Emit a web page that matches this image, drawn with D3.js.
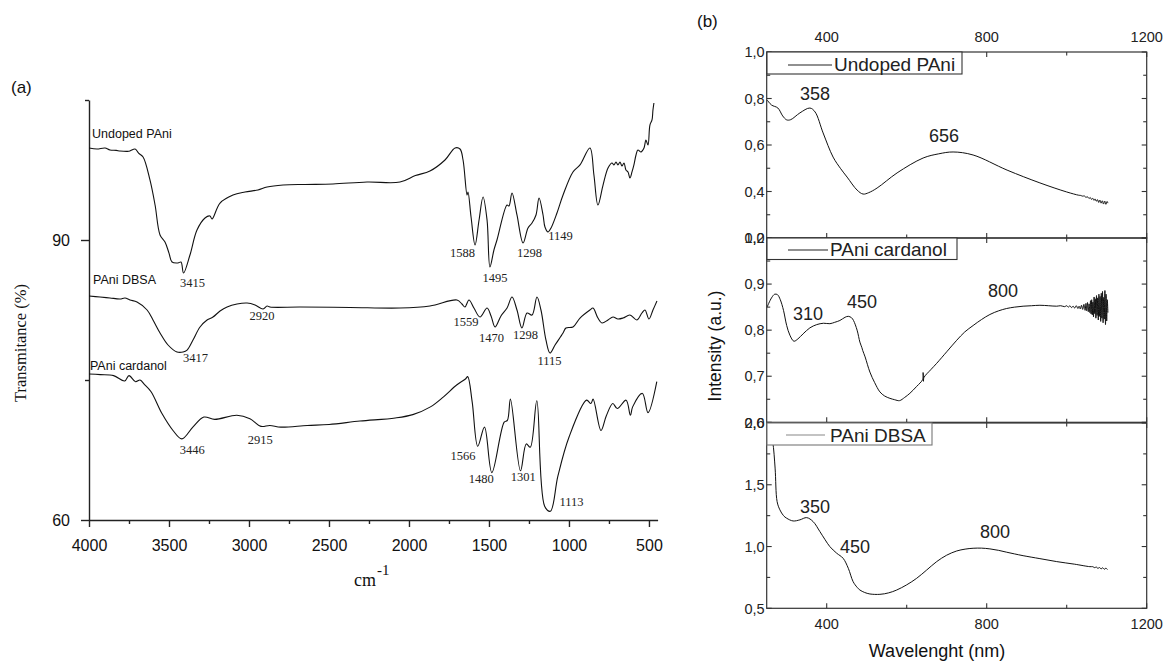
<!DOCTYPE html>
<html><head><meta charset="utf-8">
<script src="https://cdn.jsdelivr.net/npm/d3@7"></script>
<style>
html,body{margin:0;padding:0;background:#fff;}
svg{display:block;}
.sans{font-family:"Liberation Sans",Arial,Helvetica,sans-serif;}
.serif{font-family:"Liberation Serif","Times New Roman",Times,serif;}
</style></head>
<body><svg id="c" width="1168" height="661"></svg>
<script>
// ---------------- DATA : panel (a) FTIR ----------------
const irXTicks = [4000, 3500, 3000, 2500, 2000, 1500, 1000, 500];
const irXMinor = [3750, 3250, 2750, 2250, 1750, 1250, 750];
const irYTicks = [60, 90];
const irYMinor = [75, 105];

const undopedIR = [[4000,99.86],[3950,99.75],[3900,99.86],[3869,99.64],[3830,99.6],[3806,99.54],[3760,99.5],[3744,99.54],[3712,99.75],[3690,99.3],[3662,98.89],[3619,96.43],[3587,93.75],[3556,90.54],[3525,89.79],[3500,88.6],[3481,87.64],[3444,87.54],[3425,87.64],[3409,86.46],[3369,88.39],[3325,91.07],[3275,92.36],[3244,92.57],[3231,92.25],[3181,93.96],[3100,94.82],[3025,95.14],[2944,95.36],[2887,95.68],[2787,95.89],[2650,95.95],[2475,96.0],[2262,96.21],[2056,96.21],[1960,96.9],[1869,97.39],[1775,98.57],[1712,99.86],[1681,99.75],[1662,98.57],[1637,94.82],[1631,95.14],[1612,92.46],[1587,89.46],[1562,92.14],[1537,94.61],[1512,92.14],[1494,87.11],[1469,88.93],[1450,90.0],[1387,93.75],[1375,93.64],[1356,95.04],[1325,92.68],[1287,89.68],[1256,91.29],[1231,91.82],[1206,92.68],[1187,94.5],[1162,92.68],[1150,91.39],[1131,90.86],[1112,91.29],[1075,92.89],[1037,94.82],[975,97.29],[931,98.04],[869,99.86],[844,96.96],[819,93.75],[787,95.89],[756,97.71],[731,98.25],[719,98.04],[706,98.36],[694,98.04],[681,98.36],[669,97.93],[656,98.25],[644,97.5],[631,97.29],[619,96.64],[606,97.29],[594,98.04],[581,99.11],[569,99.64],[550,99.43],[531,99.86],[519,100.71],[506,100.18],[494,102.32],[481,102.86],[475,103.93],[469,104.68]];

const dbsaIR = [[4000,84.0],[3931,83.89],[3869,83.79],[3806,83.68],[3775,83.79],[3744,83.57],[3700,83.36],[3637,82.5],[3600,81.43],[3556,80.04],[3506,78.75],[3450,78.0],[3412,78.0],[3387,78.21],[3350,79.29],[3306,80.68],[3262,81.43],[3225,81.75],[3181,82.39],[3137,82.82],[3075,83.14],[3012,83.25],[2962,83.04],[2912,82.61],[2887,82.93],[2869,82.82],[2681,82.82],[2369,82.77],[2056,82.71],[1869,82.93],[1700,83.57],[1669,83.14],[1650,82.82],[1625,83.57],[1594,82.71],[1556,81.75],[1512,82.71],[1487,81.86],[1462,80.68],[1425,81.86],[1387,82.71],[1356,83.89],[1325,82.5],[1294,80.57],[1262,82.18],[1231,81.96],[1200,83.89],[1175,82.5],[1144,79.29],[1119,77.89],[1087,78.75],[1037,80.04],[1019,80.57],[975,80.68],[931,81.64],[869,82.5],[850,82.71],[819,81.64],[794,81.11],[756,81.43],[725,81.75],[694,81.54],[662,81.64],[619,81.96],[575,81.43],[544,82.18],[525,82.5],[500,81.54],[475,82.5],[450,83.46]];

const cardanolIR = [[4000,75.65],[3929,75.58],[3846,75.47],[3777,74.89],[3750,75.47],[3709,74.82],[3681,75.0],[3654,74.53],[3612,73.74],[3544,71.40],[3475,69.59],[3420,68.69],[3351,69.95],[3282,71.03],[3214,70.78],[3076,71.22],[2994,70.85],[2925,70.03],[2870,70.13],[2801,69.95],[2636,70.13],[2499,70.24],[2306,70.60],[2086,70.93],[1976,71.29],[1866,72.12],[1784,73.20],[1702,74.46],[1647,75.11],[1633,75.36],[1605,72.66],[1570,67.90],[1528,69.95],[1482,65.08],[1405,70.49],[1385,70.67],[1366,72.95],[1303,65.27],[1267,68.15],[1242,67.79],[1201,72.77],[1152,61.48],[1116,60.94],[1069,64.72],[1000,68.87],[890,72.84],[863,72.48],[849,72.95],[800,69.59],[767,71.14],[726,72.48],[698,71.94],[643,72.84],[616,71.22],[602,72.12],[541,73.56],[506,71.50],[451,74.82]];

const irNames = [["Undoped PAni",3981,100.93],["PAni DBSA",3975,85.29],["PAni cardanol",3994,76.07]];
const irPeaks = [["3415",3353,84.96],["1588",1666,88.18],["1495",1463,85.5],["1298",1247,88.18],["1149",1053,90.0],
  ["3417",3334,76.93],["2920",2919,81.43],["1559",1644,80.79],["1470",1484,79.07],["1298",1272,79.39],["1115",1122,76.61],
  ["3446",3354,67.07],["2915",2929,68.15],["1566",1663,66.46],["1480",1549,64.0],["1301",1285,64.18],["1113",984,61.55]];

// ---------------- DATA : panel (b) UV-vis ----------------
const uvXTicks = [400, 800, 1200];
const uvXMinor = [600, 1000];
const topYTicks = [0.2,0.4,0.6,0.8,1.0], topYMinor = [0.3,0.5,0.7,0.9];
const midYTicks = [0.6,0.7,0.8,0.9,1.0], midYMinor = [0.65,0.75,0.85,0.95];
const botYTicks = [0.5,1.0,1.5,2.0], botYMinor = [0.75,1.25,1.75];

const undopedUV = [[251,0.794],[262,0.772],[278,0.759],[290,0.725],[300,0.708],[310,0.709],[333,0.738],[358,0.759],[371,0.742],[391,0.652],[416,0.548],[435,0.498],[451,0.462],[476,0.406],[491,0.389],[505,0.395],[526,0.415],[576,0.480],[641,0.544],[680,0.562],[716,0.570],[766,0.557],[851,0.492],[933,0.437],[1000,0.398],[1030,0.384],[1035,0.383],[1040,0.380],[1044,0.381],[1048,0.375],[1052,0.377],[1056,0.370],[1059,0.374],[1062,0.366],[1065,0.371],[1068,0.362],[1071,0.368],[1074,0.358],[1077,0.365],[1080,0.353],[1083,0.363],[1086,0.350],[1089,0.360],[1092,0.346],[1095,0.359],[1098,0.345],[1101,0.357],[1103,0.350]];

const cardanolUV = [[251,0.850],[262,0.870],[270,0.878],[277,0.877],[284,0.866],[292,0.843],[300,0.810],[308,0.789],[318,0.776],[328,0.781],[341,0.792],[358,0.805],[375,0.812],[392,0.815],[408,0.814],[420,0.817],[433,0.821],[446,0.828],[454,0.830],[462,0.827],[467,0.821],[476,0.800],[483,0.774],[488,0.762],[490,0.756],[496,0.742],[508,0.709],[520,0.686],[533,0.666],[545,0.657],[558,0.652],[570,0.649],[582,0.647],[595,0.654],[608,0.663],[625,0.678],[640,0.693],[641,0.708],[642,0.689],[643,0.697],[660,0.714],[675,0.728],[700,0.753],[725,0.778],[745,0.796],[766,0.810],[787,0.823],[808,0.834],[830,0.842],[850,0.847],[870,0.850],[891,0.852],[912,0.853],[933,0.854],[955,0.853],[975,0.852],[985,0.853],[995,0.851],[1000,0.853],[1004,0.850],[1008,0.853],[1012,0.849],[1016,0.852],[1020,0.848],[1024,0.853],[1028,0.847],[1031,0.852],[1034,0.846],[1037,0.854],[1040,0.845],[1043,0.856],[1046,0.843],[1048,0.858],[1050,0.842],[1052,0.860],[1054,0.840],[1056,0.857],[1058,0.838],[1059.5,0.864],[1061,0.835],[1062.5,0.866],[1064,0.833],[1065.5,0.861],[1067,0.829],[1068.5,0.872],[1070,0.836],[1071.5,0.868],[1073,0.826],[1074.5,0.875],[1076,0.832],[1077.5,0.870],[1079,0.822],[1080.5,0.878],[1082,0.830],[1083.5,0.873],[1085,0.819],[1086.5,0.880],[1088,0.826],[1089.5,0.884],[1091,0.816],[1092.5,0.871],[1094,0.824],[1095.5,0.886],[1097,0.812],[1098.5,0.878],[1100,0.820],[1101.5,0.866],[1103,0.838]];

const dbsaUV = [[256,1.986],[265,1.850],[271,1.635],[276,1.364],[283,1.297],[292,1.250],[300,1.229],[316,1.207],[333,1.216],[350,1.234],[366,1.202],[383,1.121],[396,1.055],[408,0.999],[425,0.946],[441,0.905],[454,0.824],[466,0.716],[476,0.670],[483,0.648],[495,0.628],[508,0.616],[533,0.613],[555,0.625],[575,0.648],[600,0.690],[625,0.743],[650,0.810],[675,0.878],[700,0.930],[725,0.964],[746,0.979],[766,0.986],[787,0.987],[808,0.981],[830,0.969],[850,0.954],[870,0.940],[891,0.926],[933,0.902],[975,0.878],[1020,0.857],[1058,0.837],[1065,0.837],[1070,0.829],[1074,0.834],[1078,0.823],[1082,0.830],[1086,0.819],[1090,0.828],[1094,0.816],[1098,0.825],[1102,0.813]];

const uvTopPeaks = [["358",371,0.7935],["656",693,0.613]];
const uvMidPeaks = [["310",353,0.821],["450",488,0.849],["800",841,0.871]];
const uvBotPeaks = [["350",371,1.272],["450",471,0.948],["800",821,1.070]];

// ---------------- DRAW ----------------
const svg = d3.select("#c");
const ink = "#111";
const comma = d3.formatLocale({decimal:",", thousands:".", grouping:[3], currency:["",""]}).format(".1f");

// ===== panel (a) =====
const xA = d3.scaleLinear().domain([4000, 446]).range([89, 657.6]);
const yA = d3.scaleLinear().domain([60, 105]).range([520, 100]);
const gA = svg.append("g");

const axB = gA.append("g").attr("transform","translate(0,520)")
  .call(d3.axisBottom(xA).tickValues(irXTicks).tickSize(7).tickSizeOuter(0).tickPadding(13).tickFormat(d3.format("d")));
const axBm = gA.append("g").attr("transform","translate(0,520)")
  .call(d3.axisBottom(xA).tickValues(irXMinor).tickSize(4).tickSizeOuter(0).tickFormat(""));
const axL = gA.append("g").attr("transform","translate(89,0)")
  .call(d3.axisLeft(yA).tickValues(irYTicks).tickSize(8).tickSizeOuter(0).tickPadding(11).tickFormat(d3.format("d")));
const axLm = gA.append("g").attr("transform","translate(89,0)")
  .call(d3.axisLeft(yA).tickValues(irYMinor).tickSize(4).tickSizeOuter(0).tickFormat(""));
[axB,axBm,axL,axLm].forEach(a=>{
  a.selectAll("path,line").attr("stroke","#222").attr("stroke-width",1.4);
  a.selectAll("text").attr("class","sans").attr("font-size",16).attr("fill",ink);
});
axBm.select("path").remove(); axLm.select("path").remove();

const lineA = d3.line().x(d=>xA(d[0])).y(d=>yA(d[1])).curve(d3.curveCatmullRom.alpha(0.5));
[undopedIR, dbsaIR, cardanolIR].forEach(s=>{
  gA.append("path").attr("d",lineA(s)).attr("fill","none").attr("stroke",ink).attr("stroke-width",1.1);
});
irNames.forEach(n=>{
  gA.append("text").attr("class","sans").attr("font-size",12.5).attr("fill",ink)
    .attr("x",xA(n[1])).attr("y",yA(n[2])).text(n[0]);
});
irPeaks.forEach(p=>{
  gA.append("text").attr("class","serif").attr("font-size",12.5).attr("fill","#222")
    .attr("text-anchor","middle").attr("x",xA(p[1])).attr("y",yA(p[2])).text(p[0]);
});
gA.append("text").attr("class","sans").attr("font-size",17).attr("fill",ink).attr("x",11).attr("y",93).text("(a)");
gA.append("text").attr("class","serif").attr("font-size",18).attr("fill",ink).attr("x",354).attr("y",586).text("cm");
gA.append("text").attr("class","serif").attr("font-size",15).attr("fill",ink).attr("x",377).attr("y",575).text("-1");
gA.append("text").attr("class","serif").attr("font-size",16.5).attr("fill",ink)
  .attr("text-anchor","middle").attr("transform","translate(26,343) rotate(-90)").text("Transmitance (%)");

// ===== panel (b) =====
const xB = d3.scaleLinear().domain([250, 1200]).range([766.7, 1146.7]);
const panels = [
  {y: d3.scaleLinear().domain([0.2,1.0]).range([238,52]), major: topYTicks, minor: topYMinor, data: undopedUV, peaks: uvTopPeaks,
   name:"Undoped PAni", box:[767,52,962,74], sample:[788,832,65], tx:834, ty:71, col:"#222"},
  {y: d3.scaleLinear().domain([0.6,1.0]).range([422.3,238]), major: midYTicks, minor: midYMinor, data: cardanolUV, peaks: uvMidPeaks,
   name:"PAni cardanol", box:[767,238,957,259.5], sample:[788,828,250], tx:830, ty:256, col:"#222"},
  {y: d3.scaleLinear().domain([0.5,2.0]).range([608.3,423]), major: botYTicks, minor: botYMinor, data: dbsaUV, peaks: uvBotPeaks,
   name:"PAni DBSA", box:[767,423,932,445], sample:[786,825,435], tx:830, ty:442, col:"#888"}
];
const gB = svg.append("g");
const x0 = xB.range()[0], x1 = xB.range()[1];
panels.forEach((p,i)=>{
  const g = gB.append("g");
  const yT = p.y.range()[1], yBt = p.y.range()[0];
  const clipId = "clip"+i;
  svg.append("defs").append("clipPath").attr("id",clipId).append("rect")
    .attr("x",x0).attr("y",yT).attr("width",x1-x0).attr("height",yBt-yT);
  const line = d3.line().x(d=>xB(d[0])).y(d=>p.y(d[1])).curve(d3.curveCatmullRom.alpha(0.5));
  g.append("path").attr("d",line(p.data)).attr("clip-path","url(#"+clipId+")")
    .attr("fill","none").attr("stroke",ink).attr("stroke-width",1);
  const yt = p.major.map(v=>({v,len:5})).concat(p.minor.map(v=>({v,len:3.5})));
  yt.forEach(t=>{
    g.append("line").attr("x1",x0).attr("x2",x0+t.len).attr("y1",p.y(t.v)).attr("y2",p.y(t.v)).attr("stroke","#333").attr("stroke-width",1.1);
    g.append("line").attr("x1",x1).attr("x2",x1-t.len).attr("y1",p.y(t.v)).attr("y2",p.y(t.v)).attr("stroke","#333").attr("stroke-width",1.1);
  });
  const xt = uvXTicks.map(v=>({v,len:5})).concat(uvXMinor.map(v=>({v,len:3.5})));
  xt.forEach(t=>{
    g.append("line").attr("x1",xB(t.v)).attr("x2",xB(t.v)).attr("y1",yT).attr("y2",yT+t.len).attr("stroke","#333").attr("stroke-width",1.1);
    g.append("line").attr("x1",xB(t.v)).attr("x2",xB(t.v)).attr("y1",yBt).attr("y2",yBt-t.len).attr("stroke","#333").attr("stroke-width",1.1);
  });
  p.major.forEach(v=>{
    g.append("text").attr("class","sans").attr("font-size",14.5).attr("fill","#222")
      .attr("text-anchor","end").attr("x",x0-2).attr("y",p.y(v)).attr("dy","0.36em").text(comma(v));
  });
  g.append("rect").attr("x",x0).attr("y",yT).attr("width",x1-x0).attr("height",yBt-yT)
    .attr("fill","none").attr("stroke","#333").attr("stroke-width",1.2);
  const b = p.box;
  g.append("rect").attr("x",b[0]).attr("y",b[1]).attr("width",b[2]-b[0]).attr("height",b[3]-b[1])
    .attr("fill","#fff").attr("stroke",p.col==="#888"?"#777":"#333").attr("stroke-width",1.1);
  g.append("line").attr("x1",p.sample[0]).attr("x2",p.sample[1]).attr("y1",p.sample[2]).attr("y2",p.sample[2])
    .attr("stroke",p.col).attr("stroke-width",1.1);
  g.append("text").attr("class","sans").attr("font-size",19).attr("fill","#222").attr("x",p.tx).attr("y",p.ty).text(p.name);
  p.peaks.forEach(k=>{
    g.append("text").attr("class","sans").attr("font-size",18).attr("fill","#222")
      .attr("text-anchor","middle").attr("x",xB(k[1])).attr("y",p.y(k[2])).text(k[0]);
  });
});
uvXTicks.forEach(v=>{
  gB.append("text").attr("class","sans").attr("font-size",14.5).attr("fill","#222")
    .attr("text-anchor","middle").attr("x",xB(v)).attr("y",42).text(v);
  gB.append("text").attr("class","sans").attr("font-size",14.5).attr("fill","#222")
    .attr("text-anchor","middle").attr("x",xB(v)).attr("y",629).text(v);
});
gB.append("text").attr("class","sans").attr("font-size",18).attr("fill",ink)
  .attr("text-anchor","middle").attr("x",937).attr("y",657).text("Wavelenght (nm)");
gB.append("text").attr("class","sans").attr("font-size",17.5).attr("fill",ink)
  .attr("text-anchor","middle").attr("transform","translate(721,346) rotate(-90)").text("Intensity (a.u.)");
gB.append("text").attr("class","sans").attr("font-size",17).attr("fill",ink).attr("x",697).attr("y",27).text("(b)");
</script></body></html>
